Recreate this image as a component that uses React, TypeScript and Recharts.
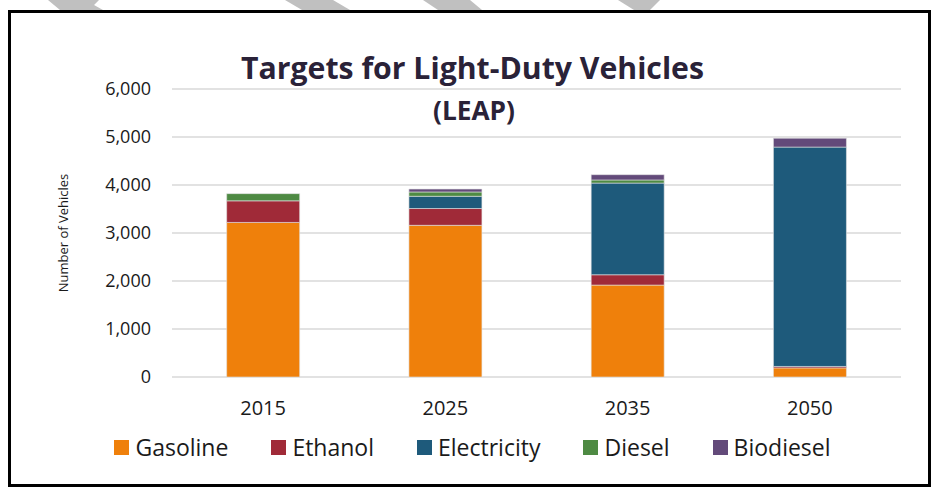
import React from 'react';
import { BarChart, Bar, XAxis, YAxis, CartesianGrid, Legend } from 'recharts';

const categories = ['2015', '2025', '2035', '2050'];
const gasoline = [3220, 3160, 1915, 190];
const ethanol = [450, 350, 215, 30];
const electricity = [0, 255, 1910, 4570];
const diesel = [150, 90, 65, 0];
const biodiesel = [0, 60, 110, 185];
const yTicks = [0, 1000, 2000, 3000, 4000, 5000, 6000];

const seriesNames = ['Gasoline', 'Ethanol', 'Electricity', 'Diesel', 'Biodiesel'];
const seriesColors = ['#EF800B', '#A02A38', '#1E5A7B', '#4E8A43', '#634A7A'];
const seriesValues = [gasoline, ethanol, electricity, diesel, biodiesel];

const data = categories.map((c, i) => {
  const row: Record<string, string | number> = { year: c };
  seriesNames.forEach((n, k) => {
    row[n] = seriesValues[k][i];
  });
  return row;
});

const FONT = '"Open Sans", sans-serif';

const YLabel = (props: any) => {
  const vb = props.viewBox || { x: 0, y: 89, width: 172, height: 288 };
  const x = vb.x + 63;
  const y = vb.y + vb.height / 2;
  return (
    <text
      x={x}
      y={y}
      transform={`rotate(-90 ${x} ${y})`}
      textAnchor="middle"
      dominantBaseline="central"
      fontFamily={FONT}
      fontSize={13}
      fill="#1a1a1a"
    >
      Number of Vehicles
    </text>
  );
};

const renderLegend = (props: any) => {
  const payload = [...(props.payload || [])].sort(
    (a: any, b: any) => seriesNames.indexOf(a.value) - seriesNames.indexOf(b.value)
  );
  return (
    <div
      style={{
        display: 'flex',
        justifyContent: 'center',
        alignItems: 'center',
        fontFamily: FONT,
        fontSize: 23,
        lineHeight: '30px',
        color: '#1a1a1a',
        whiteSpace: 'nowrap',
      }}
    >
      {payload.map((p: any, i: number) => (
        <div
          key={p.value}
          style={{ display: 'flex', alignItems: 'center', marginLeft: i ? 43 : 0 }}
        >
          <span
            style={{
              display: 'inline-block',
              width: 15,
              height: 15,
              background: p.color,
              marginRight: 6,
            }}
          />
          <span>{p.value}</span>
        </div>
      ))}
    </div>
  );
};

export default function App() {
  return (
    <div style={{ position: 'absolute', left: 0, top: 0, width: 932, height: 487, background: '#fff' }}>
      <BarChart
        width={932}
        height={487}
        data={data}
        margin={{ top: 89, right: 31, left: 0, bottom: 50 }}
        barCategoryGap="30%"
      >
        <CartesianGrid vertical={false} stroke="#d9d9d9" strokeWidth={1.5} />
        <XAxis
          dataKey="year"
          axisLine={false}
          tickLine={false}
          tickMargin={18}
          tick={{ fontFamily: FONT, fontSize: 20, fill: '#1a1a1a' }}
        />
        <YAxis
          width={172}
          domain={[0, 6000]}
          ticks={yTicks}
          axisLine={false}
          tickLine={false}
          tickMargin={15}
          tickFormatter={(v: number) => v.toLocaleString('en-US')}
          tick={{ fontFamily: FONT, fontSize: 18, fill: '#1a1a1a' }}
          label={<YLabel />}
        />
        <Legend
          content={renderLegend}
          wrapperStyle={{ left: 17, width: 911, top: 432 }}
        />
        {seriesNames.map((n, k) => (
          <Bar
            key={n}
            dataKey={n}
            stackId="a"
            fill={seriesColors[k]}
            stroke="#e2e2e2"
            strokeWidth={0.6}
            isAnimationActive={false}
          />
        ))}
      </BarChart>
      <svg
        width={932}
        height={487}
        style={{ position: 'absolute', left: 0, top: 0, pointerEvents: 'none' }}
      >
        <polygon points="48,0 99,0 94,5 103,10 60,10" fill="#c0c0c0" />
        <polygon points="285,0 333,0 350,10 302,10" fill="#c0c0c0" />
        <polygon points="423,0 470,0 482,10 438,10" fill="#c0c0c0" />
        <polygon points="618,0 660,0 650,10 634,10" fill="#c0c0c0" />
        <rect x={9.5} y={11.5} width={920} height={474} fill="none" stroke="#000" strokeWidth={3} />
        <text
          x={472.5}
          y={79}
          textAnchor="middle"
          fontFamily={FONT}
          fontWeight={700}
          fontSize={31}
          textLength={463}
          lengthAdjust="spacingAndGlyphs"
          fill="#2a2238"
        >
          Targets for Light-Duty Vehicles
        </text>
        <text
          x={474}
          y={120}
          textAnchor="middle"
          fontFamily={FONT}
          fontWeight={700}
          fontSize={27}
          textLength={82}
          lengthAdjust="spacingAndGlyphs"
          fill="#2a2238"
        >
          (LEAP)
        </text>
      </svg>
    </div>
  );
}
